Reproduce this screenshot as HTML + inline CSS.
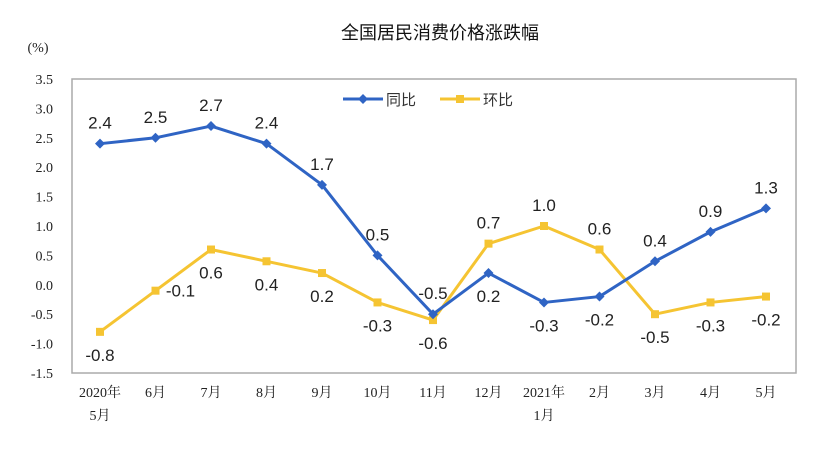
<!DOCTYPE html>
<html><head><meta charset="utf-8"><style>
body{margin:0;background:#fff;}
svg{display:block;font-family:"Liberation Sans","Noto Sans CJK SC",sans-serif;}
.ser{font-family:"Liberation Serif","Noto Serif CJK SC",serif;}
</style></head><body>
<svg id="c" width="824" height="474">
<text x="440" y="39" text-anchor="middle" font-size="18" fill="#111">全国居民消费价格涨跌幅</text>
<text x="38" y="52" text-anchor="middle" font-size="14" class="ser" fill="#222">(%)</text>
<rect x="72" y="79" width="724" height="294" fill="none" stroke="#aaa" stroke-width="1.5"/>
<g id="yt"></g><g id="xt"></g>
<g>
<line x1="343" y1="99" x2="383" y2="99" stroke="#2f64c4" stroke-width="3"/>
<path d="M363 94 L368 99 L363 104 L358 99Z" fill="#2f64c4"/>
<text x="386" y="105" font-size="15" fill="#333">同比</text>
<line x1="440" y1="99" x2="480" y2="99" stroke="#f5c432" stroke-width="3"/>
<rect x="456" y="95" width="8" height="8" fill="#f5c432"/>
<text x="483" y="105" font-size="15" fill="#333">环比</text>
</g>
<g id="s"></g>
</svg>
<script>
const cats1=["2020年","6月","7月","8月","9月","10月","11月","12月","2021年","2月","3月","4月","5月"];
const cats2=["5月","","","","","","","","1月","","","",""];
const yoy=[2.4,2.5,2.7,2.4,1.7,0.5,-0.5,0.2,-0.3,-0.2,0.4,0.9,1.3];
const mom=[-0.8,-0.1,0.6,0.4,0.2,-0.3,-0.6,0.7,1.0,0.6,-0.5,-0.3,-0.2];
const yoyPos=["a","a","a","a","a","a","a","b","b","b","a","a","a"];
const momPos=["b","r","b","b","b","b","b","a","a","a","b","b","b"];
const yTicks=[3.5,3.0,2.5,2.0,1.5,1.0,0.5,0.0,-0.5,-1.0,-1.5];
const NS="http://www.w3.org/2000/svg";
const X=i=>100+i*55.5;
const Y=v=>79+(3.5-v)*58.8;
function el(t,a,p){const e=document.createElementNS(NS,t);for(const k in a)e.setAttribute(k,a[k]);p.appendChild(e);return e;}
const yt=document.getElementById('yt'),xt=document.getElementById('xt'),s=document.getElementById('s');
yTicks.forEach(v=>{const t=el('text',{x:53,y:Y(v)+5,'text-anchor':'end','font-size':14,class:'ser',fill:'#222'},yt);


t.textContent=v.toFixed(1);});
cats1.forEach((c,i)=>{const t=el('text',{x:X(i),y:397,'text-anchor':'middle','font-size':14,class:'ser',fill:'#222'},xt);


t.textContent=c;
if(cats2[i]){const t2=el('text',{x:X(i),y:420,'text-anchor':'middle','font-size':14,class:'ser',fill:'#222'},xt);


t2.textContent=cats2[i];}});
function series(data,pos,color,marker,name){
const pl=el('polyline',{points:data.map((v,i)=>X(i)+','+Y(v)).join(' '),fill:'none',stroke:color,'stroke-width':3,'stroke-linejoin':'round'},s);


data.forEach((v,i)=>{const x=X(i),y=Y(v);let m;
if(marker==='d')m=el('path',{d:`M${x} ${y-5}L${x+5} ${y}L${x} ${y+5}L${x-5} ${y}Z`,fill:color},s);
else m=el('rect',{x:x-4,y:y-4,width:8,height:8,fill:color},s);


let lx=x,ly=y-15;const p=pos[i];
if(p==='b')ly=y+29;if(p==='r'){lx=x+25;ly=y+6;}
const t=el('text',{x:lx,y:ly,'text-anchor':'middle','font-size':17,fill:'#222'},s);


t.textContent=v.toFixed(1);});}
series(mom,momPos,'#f5c432','s','mom');
series(yoy,yoyPos,'#2f64c4','d','yoy');
</script>
</body></html>
